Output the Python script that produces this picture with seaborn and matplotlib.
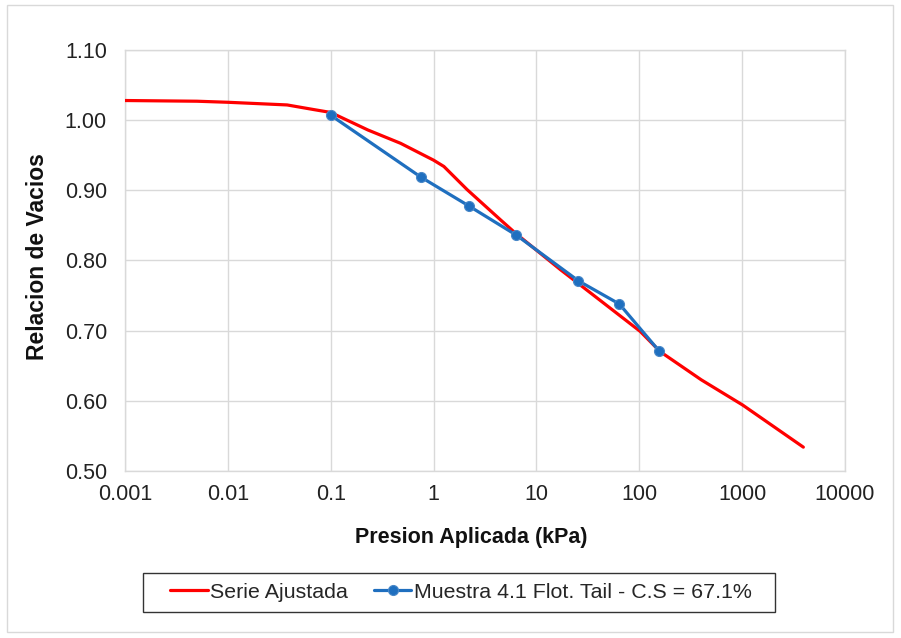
import numpy as np
import pandas as pd
import matplotlib
matplotlib.use("Agg")
import matplotlib.pyplot as plt
import seaborn as sns
from matplotlib.ticker import FixedLocator, FixedFormatter
from matplotlib.patches import Rectangle

# Fitted series
fit_pressure = [0.001, 0.005, 0.01, 0.0377, 0.069, 0.1, 0.23, 0.478, 1.0, 1.26, 2.12, 4.47,
                6.25, 17.1, 41.8, 102, 160, 400, 1012, 3935]
fit_void = [1.028, 1.027, 1.0255, 1.0217, 1.015, 1.011, 0.986, 0.967, 0.943, 0.934, 0.901, 0.858,
            0.839, 0.787, 0.743, 0.699, 0.670, 0.630, 0.594, 0.534]

# Sample series
sample_pressure = [0.1, 0.75, 2.19, 6.4, 25.6, 64, 156]
sample_void = [1.007, 0.919, 0.878, 0.836, 0.771, 0.738, 0.671]

x_ticks = [0.001, 0.01, 0.1, 1, 10, 100, 1000, 10000]
x_tick_labels = ["0.001", "0.01", "0.1", "1", "10", "100", "1000", "10000"]
y_ticks = [0.50, 0.60, 0.70, 0.80, 0.90, 1.00, 1.10]
y_tick_labels = ["0.50", "0.60", "0.70", "0.80", "0.90", "1.00", "1.10"]

label_fit = "Serie Ajustada"
label_sample = "Muestra 4.1 Flot. Tail - C.S = 67.1%"

sns.set_theme(style="white")
plt.rcParams['font.family'] = ['Liberation Sans', 'DejaVu Sans']

W, H = 901, 638
fig = plt.figure(figsize=(W/100, H/100), dpi=100)
ax = fig.add_axes([125/W, 1-471/H, (845-125)/W, (471-50)/H])

df_fit = pd.DataFrame({"p": fit_pressure, "e": fit_void})
df_s = pd.DataFrame({"p": sample_pressure, "e": sample_void})

sns.lineplot(data=df_fit, x="p", y="e", ax=ax, color="#ff0000", linewidth=2.3,
             sort=False, estimator=None, label=label_fit, zorder=3)
sns.lineplot(data=df_s, x="p", y="e", ax=ax, color="#1f6fbf", linewidth=2.3,
             marker="o", markersize=7.2, markeredgecolor="#4a88c8", markeredgewidth=0.8,
             sort=False, estimator=None, label=label_sample, zorder=4)

ax.set_xscale("log")
ax.set_xlim(0.001, 10000)
ax.set_ylim(0.50, 1.10)
ax.xaxis.set_major_locator(FixedLocator(x_ticks))
ax.xaxis.set_major_formatter(FixedFormatter(x_tick_labels))
ax.xaxis.set_minor_locator(FixedLocator([]))
ax.yaxis.set_major_locator(FixedLocator(y_ticks))
ax.yaxis.set_major_formatter(FixedFormatter(y_tick_labels))

ax.grid(True, which="major", color="#d9d9d9", linewidth=1.0)
for s in ax.spines.values():
    s.set_color("#d9d9d9")
    s.set_linewidth(1.0)
ax.tick_params(axis="both", which="both", length=0, labelsize=15.5, colors="#222222")
ax.tick_params(axis="y", pad=13)
ax.tick_params(axis="x", pad=9)

ax.set_xlabel("Presion Aplicada (kPa)", fontsize=15.5, fontweight="bold", color="#111111")
ax.set_ylabel("Relacion de Vacios", fontsize=16.5, fontweight="bold", color="#111111")
ax.xaxis.set_label_coords((471.5-125)/720, -(537-471)/421, transform=ax.transAxes)
ax.xaxis.label.set_va("center")
ax.yaxis.set_label_coords(-(125-38)/720, (471-257)/421, transform=ax.transAxes)
ax.yaxis.label.set_va("center")

ax.get_legend().remove()
handles, labels = ax.get_legend_handles_labels()
leg = fig.legend(handles, labels, loc="center", bbox_to_anchor=(461/W, 1-592/H), ncol=2,
                 fontsize=15.4, frameon=False,
                 handlelength=1.75, handletextpad=0.12, columnspacing=1.2, borderpad=0.3)

fig.patches.append(Rectangle((143/W, 1-612/H), (775-143)/W, (612-573)/H, transform=fig.transFigure,
                             fill=False, edgecolor="#333333", linewidth=1.0))
fig.patches.append(Rectangle((7/W, 1-632/H), (893-7)/W, (632-5)/H, transform=fig.transFigure,
                             fill=False, edgecolor="#d9d9d9", linewidth=1.0))

fig.savefig("out.png", dpi=100)
